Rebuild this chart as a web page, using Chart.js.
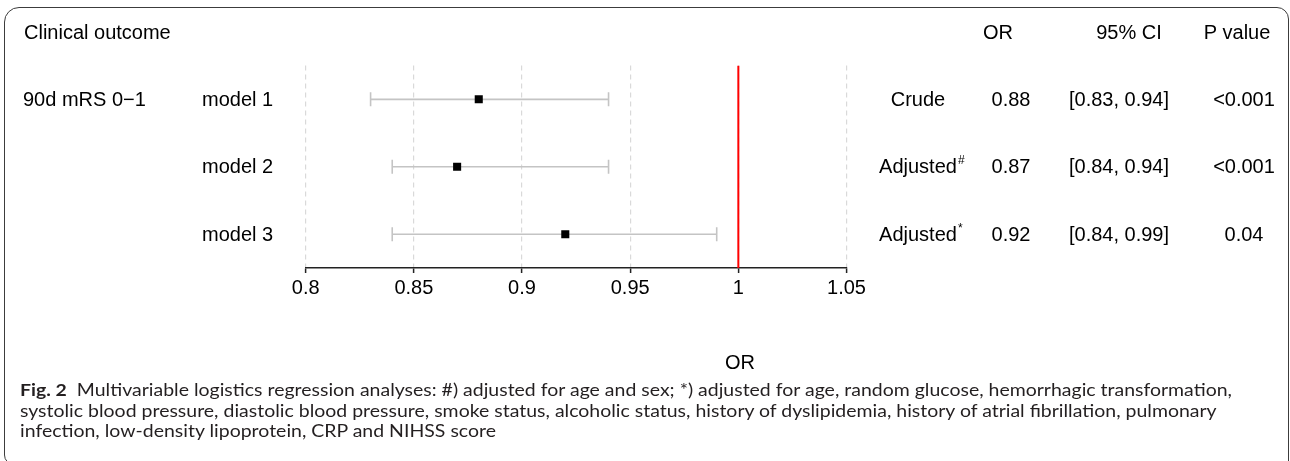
<!DOCTYPE html>
<html>
<head>
<meta charset="utf-8">
<script src="https://cdn.jsdelivr.net/npm/chart.js@4.4.1/dist/chart.umd.min.js"></script>
<style>
  html, body { margin: 0; padding: 0; background: #fff; }
  #wrap { position: relative; width: 1290px; height: 461px; overflow: hidden; }
  #frame {
    position: absolute; left: 4px; top: 7px; width: 1285px; height: 458px;
    box-sizing: border-box; border: 1px solid #3c3c3c;
    border-radius: 15px 12px 0 10px;
  }
  #forest { position: absolute; left: 0; top: 0; }
  #axisTitle {
    position: absolute; left: 690px; width: 100px; top: 350px; text-align: center;
    font: 20px "Liberation Sans", Arial, sans-serif; line-height: 24px; color: #000;
  }
  #caption {
    position: absolute; left: 20px; top: 380px; white-space: nowrap;
    font: 17.5px Lato, "Open Sans", sans-serif; line-height: 20.7px; color: #231f20;
    transform-origin: 0 0;
  }
  #caption b { font-weight: 700; }
</style>
</head>
<body>
<div id="wrap">
  <canvas id="forest" width="1290" height="461"></canvas>
  <div id="frame"></div>
  <div id="axisTitle">OR</div>
  <div id="caption">
    <div id="capLine1"><b>Fig. 2</b>&nbsp; Multivariable logistics regression analyses: #) adjusted for age and sex; *) adjusted for age, random glucose, hemorrhagic transformation,</div>
    <div>systolic blood pressure, diastolic blood pressure, smoke status, alcoholic status, history of dyslipidemia, history of atrial fibrillation, pulmonary</div>
    <div>infection, low-density lipoprotein, CRP and NIHSS score</div>
  </div>
</div>
<script>
// Forest plot of odds ratios with 95% confidence intervals
const headers = ['Clinical outcome', 'OR', '95% CI', 'P value'];
const outcome = '90d mRS 0−1';
const models = ['model 1', 'model 2', 'model 3'];
const adjustment = ['Crude', 'Adjusted', 'Adjusted'];
const adjustmentMark = ['', '#', '*'];
const oddsRatio = [0.88, 0.87, 0.92];
const ciLower = [0.83, 0.84, 0.84];
const ciUpper = [0.94, 0.94, 0.99];
const pValues = ['<0.001', '<0.001', '0.04'];
const xTicks = [0.8, 0.85, 0.9, 0.95, 1, 1.05];
const xTickLabels = ['0.8', '0.85', '0.9', '0.95', '1', '1.05'];
const nullValue = 1;

const rowIndex = models.map((_, i) => i + 1);
const FONT = '"Liberation Sans", Arial, sans-serif';

// horizontal CI whiskers with end caps, drawn beneath the point markers
const ciWhiskers = {
  id: 'ciWhiskers',
  beforeDatasetsDraw(chart) {
    const { ctx, scales: { x, y } } = chart;
    ctx.save();
    ctx.strokeStyle = '#c4c4c4';
    ctx.lineWidth = 1.6;
    rowIndex.forEach((r, i) => {
      const py = y.getPixelForValue(r);
      const x0 = x.getPixelForValue(ciLower[i]);
      const x1 = x.getPixelForValue(ciUpper[i]);
      ctx.beginPath();
      ctx.moveTo(x0, py); ctx.lineTo(x1, py);
      ctx.moveTo(x0, py - 7); ctx.lineTo(x0, py + 7);
      ctx.moveTo(x1, py - 7); ctx.lineTo(x1, py + 7);
      ctx.stroke();
    });
    ctx.restore();
  }
};

// text columns on both sides of the plot
const tableText = {
  id: 'tableText',
  afterDraw(chart) {
    const { ctx, scales: { y } } = chart;
    ctx.save();
    ctx.fillStyle = '#000';
    ctx.textBaseline = 'middle';
    ctx.font = '20px ' + FONT;
    const headY = 33;
    ctx.textAlign = 'left';
    ctx.fillText(headers[0], 24, headY);
    ctx.textAlign = 'center';
    ctx.fillText(headers[1], 998, headY);
    ctx.fillText(headers[2], 1129, headY);
    ctx.fillText(headers[3], 1237, headY);

    rowIndex.forEach((r, i) => {
      const py = y.getPixelForValue(r) + 1;
      ctx.font = '20px ' + FONT;
      ctx.textAlign = 'left';
      if (i === 0) ctx.fillText(outcome, 23, py);
      ctx.fillText(models[i], 202, py);
      ctx.textAlign = 'center';
      ctx.fillText(adjustment[i], 918, py);
      if (adjustmentMark[i]) {
        const w = ctx.measureText(adjustment[i]).width;
        ctx.textAlign = 'left';
        ctx.font = '12px ' + FONT;
        ctx.fillText(adjustmentMark[i], 918 + w / 2 + 1, py - 7);
        ctx.font = '20px ' + FONT;
        ctx.textAlign = 'center';
      }
      ctx.fillText(oddsRatio[i].toFixed(2), 1011, py);
      ctx.fillText('[' + ciLower[i].toFixed(2) + ', ' + ciUpper[i].toFixed(2) + ']', 1119, py);
      ctx.fillText(pValues[i], 1244, py);
    });
    ctx.restore();
  }
};

new Chart(document.getElementById('forest'), {
  type: 'scatter',
  data: {
    datasets: [
      {
        label: 'null',
        data: [{ x: nullValue, y: 0.5 }, { x: nullValue, y: models.length + 0.5 }],
        showLine: true,
        borderColor: '#ff0000',
        borderWidth: 2,
        pointRadius: 0
      },
      {
        label: 'OR',
        data: rowIndex.map((r, i) => ({ x: oddsRatio[i], y: r })),
        pointStyle: 'rect',
        pointRadius: 5.7,
        backgroundColor: '#000',
        borderColor: '#000',
        borderWidth: 0
      }
    ]
  },
  options: {
    responsive: false,
    animation: false,
    devicePixelRatio: 1,
    layout: { padding: { left: 305.7, right: 443.5, top: 65.6, bottom: 158 } },
    plugins: { legend: { display: false }, tooltip: { enabled: false } },
    scales: {
      x: {
        type: 'linear',
        min: xTicks[0],
        max: xTicks[xTicks.length - 1],
        afterBuildTicks(scale) { scale.ticks = xTicks.map(v => ({ value: v })); },
        ticks: {
          color: '#000',
          padding: 3,
          maxRotation: 0,
          autoSkip: false,
          font: { family: FONT, size: 20 },
          callback: (v, i) => xTickLabels[i]
        },
        grid: {
          color: '#d9d9d9',
          lineWidth: 1.2,
          drawTicks: true,
          tickLength: 5,
          tickColor: '#222',
          tickWidth: 1.5
        },
        border: { display: true, color: '#222', width: 1.5, dash: [5, 4] }
      },
      y: {
        type: 'linear',
        display: false,
        reverse: true,
        min: 0.5,
        max: models.length + 0.5
      }
    }
  },
  plugins: [ciWhiskers, tableText]
});

// fit the caption's first line to the frame width
(function () {
  const cap = document.getElementById('caption');
  const line1 = document.getElementById('capLine1');
  line1.style.display = 'inline-block';
  const natural = line1.getBoundingClientRect().width;
  line1.style.display = '';
  cap.style.transform = 'scaleX(' + (1212 / natural) + ')';
})();
</script>
</body>
</html>
